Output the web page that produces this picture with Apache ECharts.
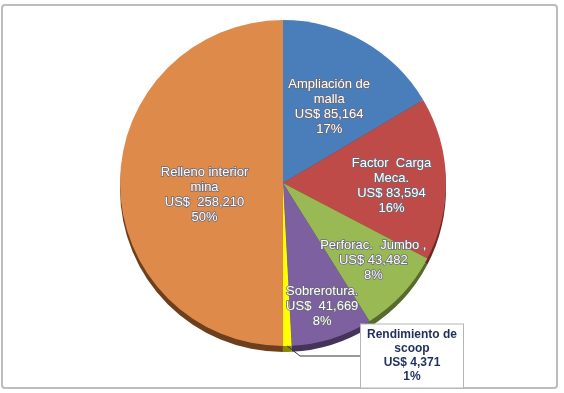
<!DOCTYPE html>
<html>
<head>
<meta charset="utf-8">
<script src="https://cdn.jsdelivr.net/npm/echarts@6/dist/echarts.min.js"></script>
<style>
  html, body { margin: 0; padding: 0; background: #fff; }
  #chart { width: 564px; height: 393px; }
</style>
</head>
<body>
<div id="chart"></div>
<script>
// datos de costos
const names = ['Ampliación de malla', 'Factor Carga Meca.', 'Perforac. Jumbo', 'Sobrerotura', 'Rendimiento de scoop', 'Relleno interior mina'];
const labelNames = ['Ampliación de\nmalla', 'Factor  Carga\nMeca.', 'Perforac.  Jumbo ,', 'Sobrerotura.', 'Rendimiento de\nscoop', 'Relleno interior\nmina'];
const amounts = [85164, 83594, 43482, 41669, 4371, 258210];
const amountText = ['US$ 85,164', 'US$ 83,594', 'US$ 43,482', 'US$  41,669', 'US$ 4,371', 'US$  258,210'];

const colors = ['#4A7EBB', '#BE4B48', '#98B954', '#7D60A0', '#FFFF00', '#DE8A4B'];
const sideColors = ['#2c4d74', '#6e2826', '#566b2c', '#45335a', '#8a8a00', '#6e3f1c'];

const chart = echarts.init(document.getElementById('chart'));

const cx = 283, cy = 183;
const R = 163;

// ajuste fino de etiquetas
const labelShift = [[-10, 23], [-5, 6], [7, 0], [5, 15], [0, 0], [35, 12]];

chart.setOption({
  animation: false,
  graphic: [{
    type: 'rect',
    shape: { x: 2, y: 5, width: 555, height: 383, r: 3 },
    style: { fill: 'none', stroke: '#bdbdbd', lineWidth: 2 },
    z: -10
  }],
  series: [{
    // lado 3D
    type: 'pie',
    center: [cx, cy + 6],
    radius: [0, R],
    startAngle: 90,
    silent: true,
    label: { show: false },
    labelLine: { show: false },
    data: amounts.map((v, i) => ({ value: v, itemStyle: { color: sideColors[i] } })),
    z: 1
  }, {
    type: 'pie',
    center: [cx, cy],
    radius: [0, R],
    startAngle: 90,
    label: { show: false },
    labelLine: { show: false },
    data: amounts.map((v, i) => ({ name: names[i], value: v, itemStyle: { color: colors[i] } })),
    z: 2
  }, {
    // solo etiquetas
    type: 'pie',
    center: [cx, cy],
    radius: [58, R],
    startAngle: 90,
    percentPrecision: 0,
    itemStyle: { color: 'rgba(0,0,0,0)' },
    label: {
      position: 'inside',
      color: '#fff',
      fontFamily: 'Liberation Sans, Arial, sans-serif',
      fontSize: 13,
      lineHeight: 15,
      textBorderColor: '#6b6b7a',
      textBorderWidth: 1.5,
      formatter: p => labelNames[p.dataIndex] + '\n' + amountText[p.dataIndex] + '\n' + p.percent + '%'
    },
    labelLine: { show: false },
    labelLayout: p => {
      if (p.dataIndex === 4) return { x: 412, y: 356, align: 'center', verticalAlign: 'middle' };
      return { dx: labelShift[p.dataIndex][0], dy: labelShift[p.dataIndex][1] };
    },
    data: amounts.map((v, i) => {
      const d = { name: names[i], value: v };
      if (i === 4) {
        d.label = {
          position: 'outside',
          color: '#1F2F5C',
          fontWeight: 'bold',
          fontSize: 12,
          lineHeight: 14,
          textBorderWidth: 0,
          backgroundColor: '#fff',
          borderColor: '#b5b5b5',
          borderWidth: 1,
          padding: [4, 6, 3, 6],
          align: 'center'
        };
        d.labelLine = { show: true, length: 2, length2: 60, lineStyle: { color: '#333', width: 1 } };
      }
      return d;
    }),
    z: 3
  }]
});
</script>
</body>
</html>
